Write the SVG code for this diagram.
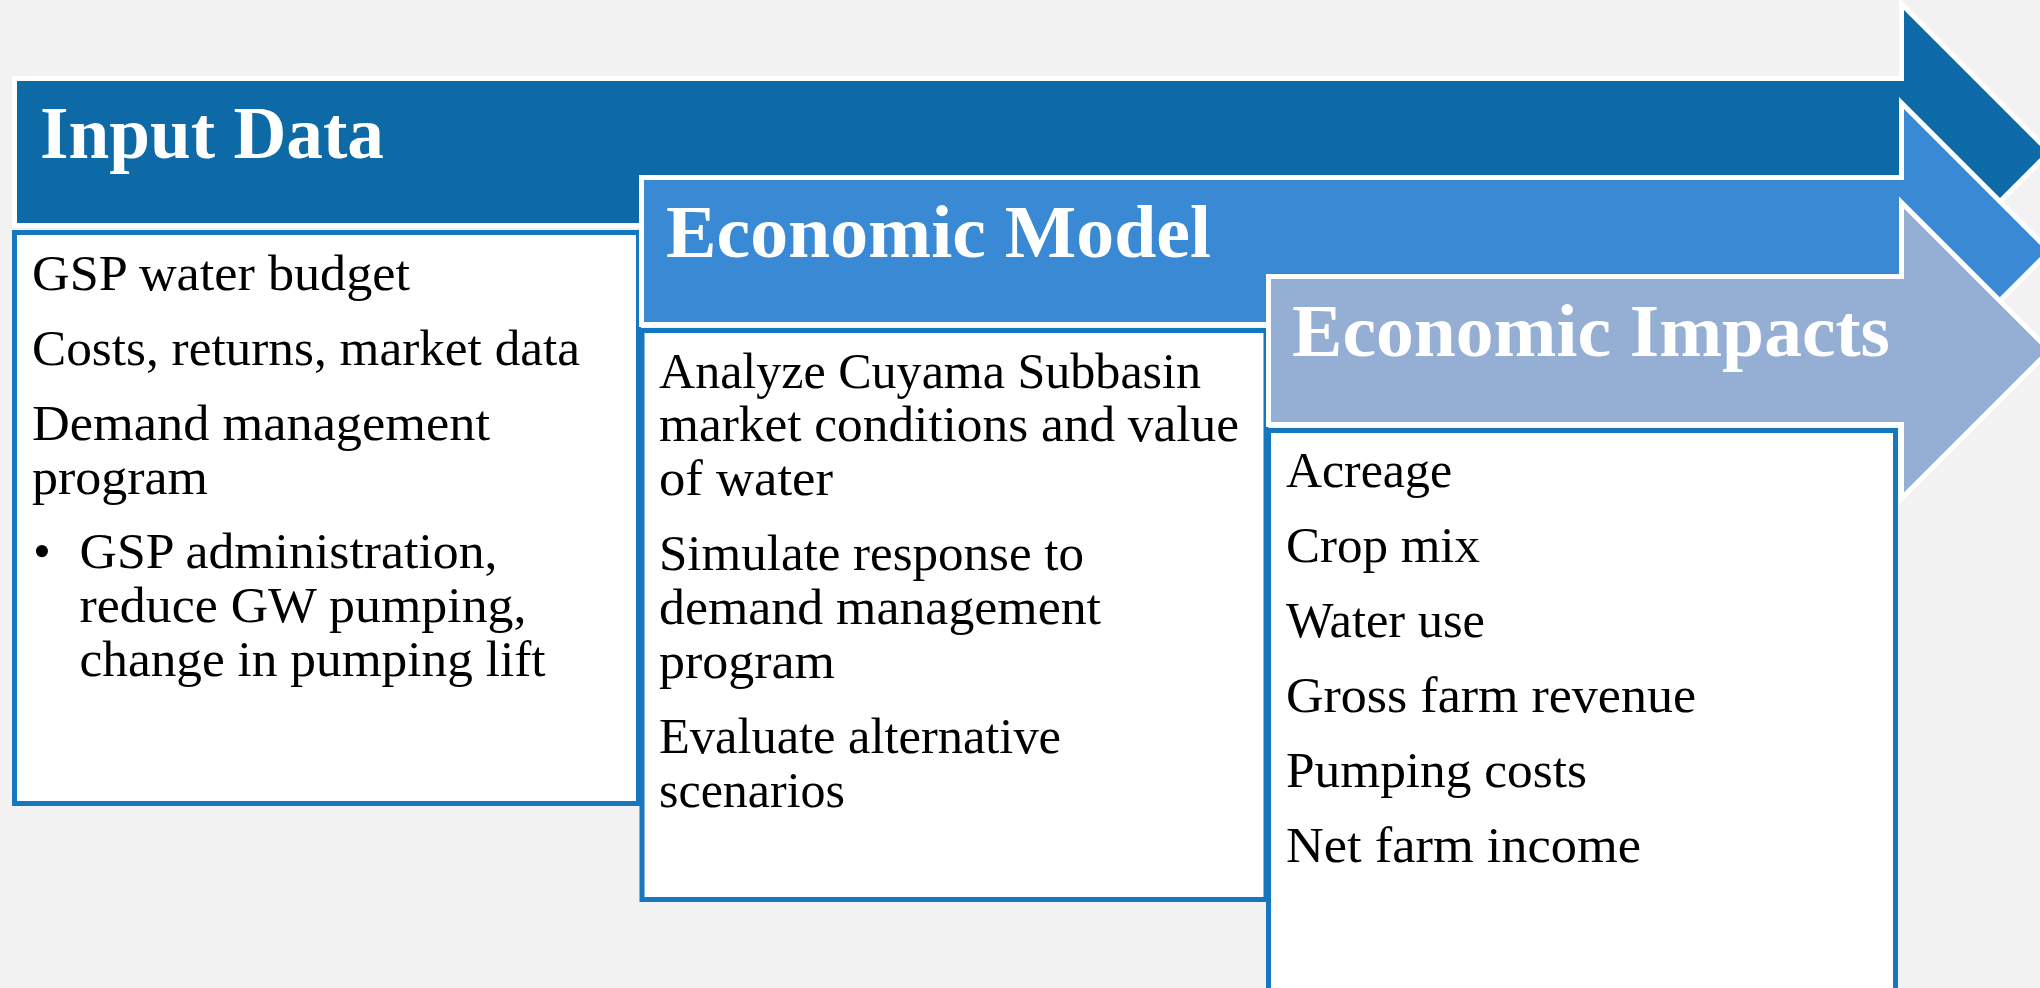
<svg xmlns="http://www.w3.org/2000/svg" width="2040" height="988" viewBox="0 0 2040 988">
  <style>
    .bg { fill: #f2f2f2; }
    .arrow { stroke: #ffffff; stroke-width: 10; stroke-linejoin: miter; paint-order: stroke; }
    .a1 { fill: #0e6aa7; }
    .a2 { fill: #3a89d4; }
    .a3 { fill: #95afd4; }
    .box { fill: #ffffff; stroke: #1577bd; stroke-width: 5; }
    .title { font-family: "Liberation Serif", "DejaVu Serif", serif; font-weight: bold; font-size: 74px; fill: #ffffff; }
    .body { font-family: "Liberation Serif", "DejaVu Serif", serif; font-size: 51px; fill: #000000; }
  </style>

  <rect class="bg" x="0" y="0" width="2040" height="988"/>

  <!-- Stage 1: Input Data -->
  <g id="input-data">
    <path class="arrow a1" d="M17,81 H1904 V10 L2046,152 L1904,294 V223 H17 Z"/>
    <text class="title" x="40" y="158" textLength="344" lengthAdjust="spacingAndGlyphs">Input Data</text>
    <rect class="box" x="14.5" y="232.5" width="624" height="571"/>
    <text class="body" x="32" y="290" textLength="378" lengthAdjust="spacingAndGlyphs">GSP water budget</text>
    <text class="body" x="32" y="365" textLength="548" lengthAdjust="spacingAndGlyphs">Costs, returns, market data</text>
    <text class="body" x="32" y="440" textLength="458" lengthAdjust="spacingAndGlyphs">Demand management</text>
    <text class="body" x="32" y="493.5" textLength="176" lengthAdjust="spacingAndGlyphs">program</text>
    <text class="body" x="33" y="568">•</text>
    <text class="body" x="79.5" y="568" textLength="418" lengthAdjust="spacingAndGlyphs">GSP administration,</text>
    <text class="body" x="79.5" y="622" textLength="447" lengthAdjust="spacingAndGlyphs">reduce GW pumping,</text>
    <text class="body" x="79.5" y="675.5" textLength="466" lengthAdjust="spacingAndGlyphs">change in pumping lift</text>
  </g>

  <!-- Stage 2: Economic Model -->
  <g id="economic-model">
    <path class="arrow a2" d="M644,180 H1904 V109 L2046,251 L1904,393 V322 H644 Z"/>
    <text class="title" x="666" y="257" textLength="545" lengthAdjust="spacingAndGlyphs">Economic Model</text>
    <rect class="box" x="642" y="330.5" width="624" height="569"/>
    <text class="body" x="659" y="388" textLength="542" lengthAdjust="spacingAndGlyphs">Analyze Cuyama Subbasin</text>
    <text class="body" x="659" y="441" textLength="580" lengthAdjust="spacingAndGlyphs">market conditions and value</text>
    <text class="body" x="659" y="495" textLength="174" lengthAdjust="spacingAndGlyphs">of water</text>
    <text class="body" x="659" y="570" textLength="425" lengthAdjust="spacingAndGlyphs">Simulate response to</text>
    <text class="body" x="659" y="624" textLength="442" lengthAdjust="spacingAndGlyphs">demand management</text>
    <text class="body" x="659" y="677.5" textLength="176" lengthAdjust="spacingAndGlyphs">program</text>
    <text class="body" x="659" y="753" textLength="402" lengthAdjust="spacingAndGlyphs">Evaluate alternative</text>
    <text class="body" x="659" y="806.5" textLength="186" lengthAdjust="spacingAndGlyphs">scenarios</text>
  </g>

  <!-- Stage 3: Economic Impacts -->
  <g id="economic-impacts">
    <path class="arrow a3" d="M1271,279 H1904 V208.5 L2046,350.5 L1904,492.5 V422 H1271 Z"/>
    <text class="title" x="1292" y="356" textLength="598" lengthAdjust="spacingAndGlyphs">Economic Impacts</text>
    <rect class="box" x="1268.5" y="430.5" width="627" height="600"/>
    <text class="body" x="1286" y="487" textLength="166" lengthAdjust="spacingAndGlyphs">Acreage</text>
    <text class="body" x="1286" y="562" textLength="194" lengthAdjust="spacingAndGlyphs">Crop mix</text>
    <text class="body" x="1286" y="637" textLength="199" lengthAdjust="spacingAndGlyphs">Water use</text>
    <text class="body" x="1286" y="712" textLength="410" lengthAdjust="spacingAndGlyphs">Gross farm revenue</text>
    <text class="body" x="1286" y="787" textLength="301" lengthAdjust="spacingAndGlyphs">Pumping costs</text>
    <text class="body" x="1286" y="862" textLength="355" lengthAdjust="spacingAndGlyphs">Net farm income</text>
  </g>

  <!-- no connectors between stages: the overlapping arrows carry the flow -->
  <g id="connectors"/>
</svg>
